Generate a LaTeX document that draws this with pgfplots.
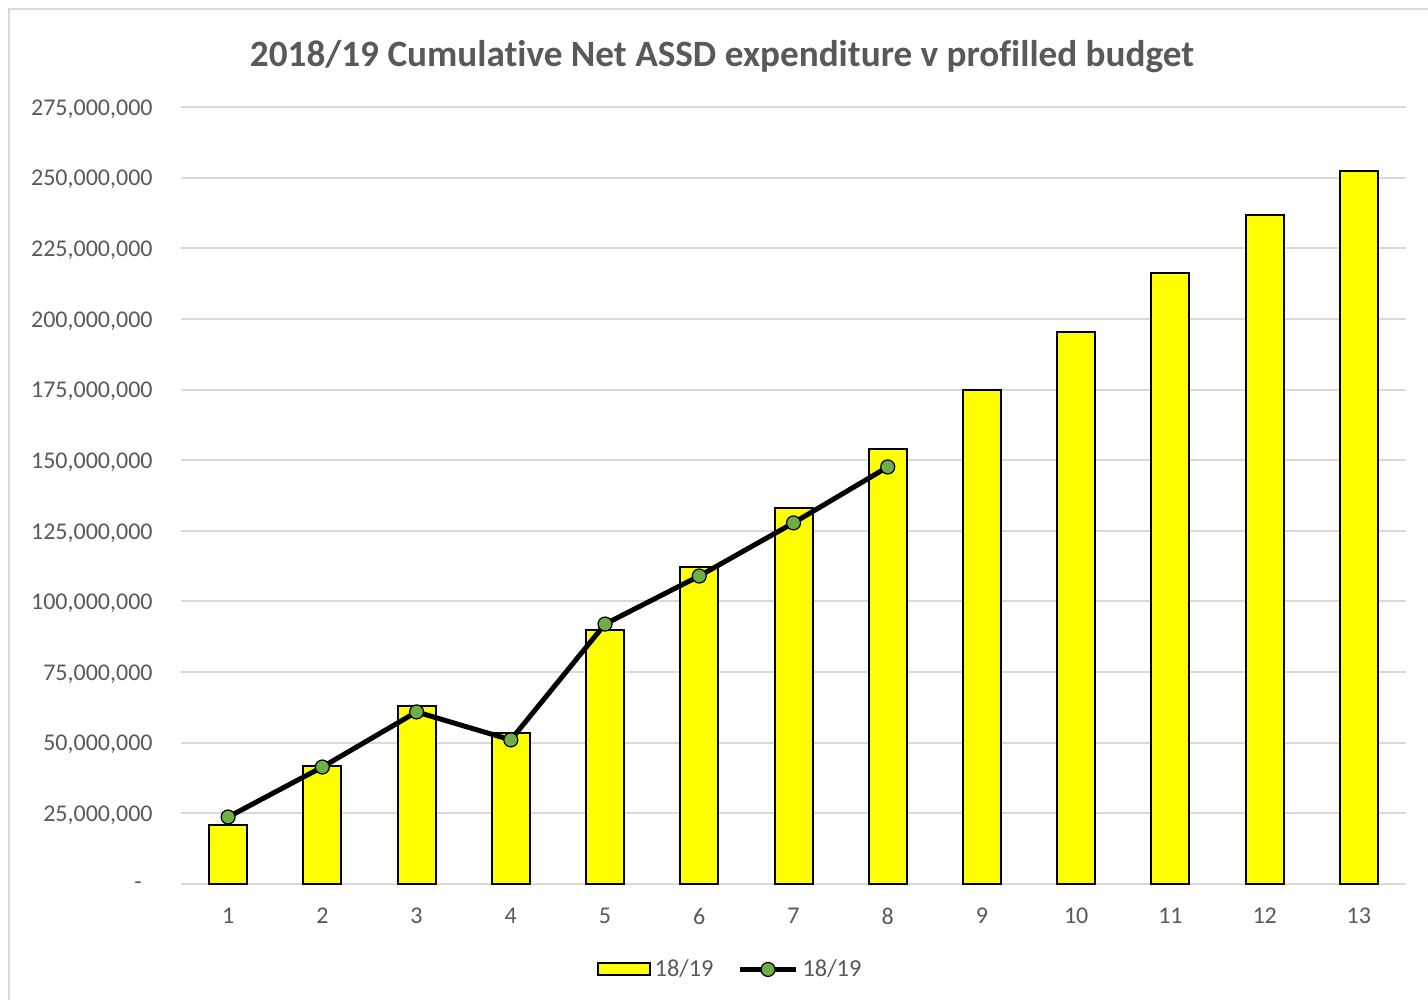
\documentclass[border=0pt]{standalone}
\usepackage{pgfplots}
\pgfplotsset{compat=1.18}
\usepackage{fontspec}
\setmainfont{Carlito}[Ligatures=NoCommon]
\definecolor{txt}{HTML}{595959}
\definecolor{gridc}{HTML}{D9D9D9}
\definecolor{barc}{HTML}{FFFF00}
\definecolor{markc}{HTML}{70AD47}

\pgfplotsset{
    barlegend/.style={legend image code/.code={\draw[##1] (0pt,-3pt) rectangle (26pt,3pt);}},
    linelegend/.style={legend image code/.code={\draw[mark repeat=2,mark phase=2,##1] plot coordinates {(0pt,0pt)(14pt,0pt)(28pt,0pt)};}},
}

\begin{document}
\begin{tikzpicture}
% picture is 714pt x 500pt (1 px of the reference = 0.5pt), origin bottom left
\useasboundingbox (0pt,0pt) rectangle (714pt,500pt);
\fill[white] (0pt,0pt) rectangle (714pt,500pt);
\draw[gridc, line width=1pt] (4.5pt,-10pt) -- (4.5pt,495.5pt) -- (725pt,495.5pt);

\node[txt, font=\fontsize{18.6}{20}\selectfont\bfseries] at (361pt,471.5pt) {2018/19 Cumulative Net ASSD expenditure v profilled budget};

\begin{axis}[
    at={(90.5pt,58pt)}, anchor=south west,
    scale only axis,
    width=612.5pt, height=388.5pt,
    xmin=0.5, xmax=13.5,
    ymin=0, ymax=275000000,
    xtick={1,...,13},
    xticklabels={1,2,3,4,5,6,7,8,9,10,11,12,13},
    ytick={0,25000000,50000000,75000000,100000000,125000000,150000000,175000000,200000000,225000000,250000000,275000000},
    yticklabels={{-\hspace*{5.5pt}},{25,000,000},{50,000,000},{75,000,000},{100,000,000},{125,000,000},{150,000,000},{175,000,000},{200,000,000},{225,000,000},{250,000,000},{275,000,000}},
    scaled y ticks=false,
    axis x line*=bottom,
    axis y line*=left,
    x axis line style={draw=gridc, line width=1pt, -},
    y axis line style={draw=none},
    major tick length=0pt,
    ymajorgrids=true,
    major grid style={draw=gridc, line width=1pt},
    tick label style={font=\fontsize{12}{14}\selectfont, text=txt},
    yticklabel style={anchor=east, inner sep=0pt, xshift=-14pt, yshift=-1pt},
    xticklabel style={yshift=-8.5pt},
    clip=false,
    legend columns=2,
    legend style={at={(axis description cs:0.449,-0.11)}, anchor=center, draw=none, fill=none,
        font=\fontsize{12.2}{14}\selectfont, text=txt,
        /tikz/every even column/.append style={column sep=10pt}},
]
\addplot[ybar, bar width=19pt, fill=barc, draw=black, line width=1pt, barlegend]
coordinates {
(1,20900000)(2,41800000)(3,63000000)(4,53400000)(5,89900000)(6,112200000)(7,133100000)
(8,154000000)(9,174800000)(10,195400000)(11,216200000)(12,236800000)(13,252300000)
};
\addlegendentry{18/19}

\addplot[black, line width=2.5pt, mark=*, mark size=3.5pt,
    mark options={fill=markc, draw=black, line width=0.6pt}, linelegend]
coordinates {
(1,23700000)(2,41400000)(3,60900000)(4,51000000)(5,92000000)(6,109000000)(7,127800000)(8,147600000)
};
\addlegendentry{18/19}
\end{axis}
\end{tikzpicture}
\end{document}
